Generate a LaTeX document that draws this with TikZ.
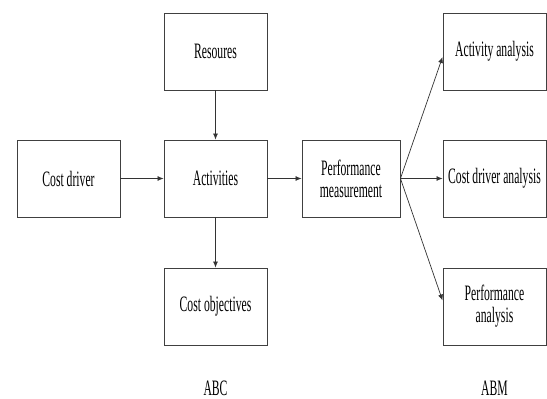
\documentclass[tikz,border=0pt]{standalone}
\usepackage{fontspec}
\setmainfont[FakeStretch=0.53]{Liberation Serif}
\usetikzlibrary{arrows.meta}
\begin{document}
\begin{tikzpicture}[x=1pt,y=-1pt,
  box/.style={draw=black!75,line width=0.9pt,minimum width=103pt,minimum height=77pt,inner sep=2pt,align=center,font=\fontsize{22}{22}\selectfont},
  lbl/.style={font=\fontsize{22}{22}\selectfont,anchor=base,inner sep=0pt},
  arr/.style={draw=black!80,line width=0.7pt,-{Latex[length=6pt,width=5pt]}}]
\useasboundingbox (0,0) rectangle (547,399);
\node[box] (res) at (215.5,51.5) {Resoures};
\node[box] (cd) at (68.5,178.5) {Cost driver};
\node[box] (act) at (215.5,178.5) {Activities};
\node[box] (co) at (215.5,306.5) {Cost objectives};
\node[box,minimum width=98pt] (pm) at (351,178.5) {Performance\\measurement};
\node[box] (aa) at (494.5,51.5) {Activity analysis};
\node[box] (cda) at (494.5,178.5) {Cost driver analysis};
\node[box] (pa) at (494.5,306.5) {Performance\\analysis};
\node[lbl] (abc) at (215.5,395) {ABC};
\node[lbl] (abm) at (494.5,395) {ABM};
\draw[arr] (res) -- (act);
\draw[arr] (cd) -- (act);
\draw[arr] (act) -- (co);
\draw[arr] (act) -- (pm);
\draw[arr] (pm.east) -- ([yshift=-5.5pt]aa.west);
\draw[arr] (pm.east) -- (cda.west);
\draw[arr] (pm.east) -- ([yshift=6pt]pa.west);
\end{tikzpicture}
\end{document}
